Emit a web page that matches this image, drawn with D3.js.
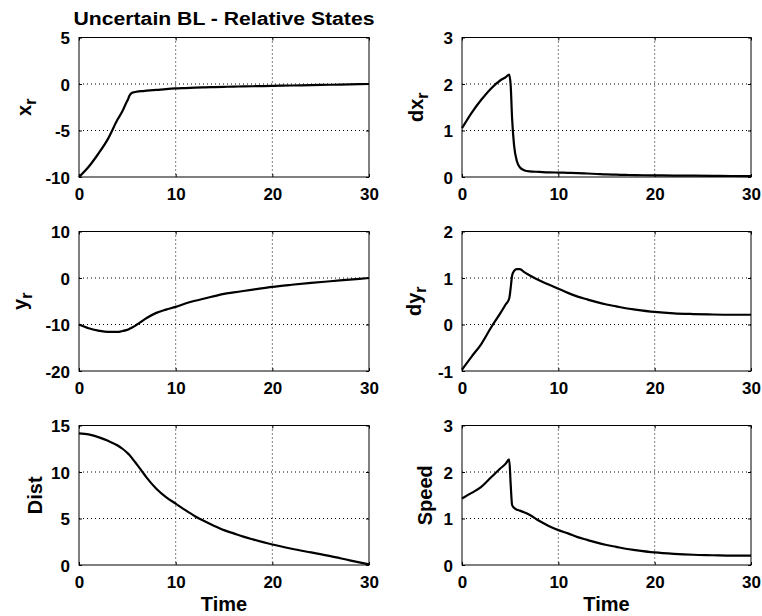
<!DOCTYPE html>
<html>
<head>
<meta charset="utf-8">
<script src="https://cdn.jsdelivr.net/npm/d3@7"></script>
<style>
  body { margin: 0; background: #fff; }
  text { font-family: "Liberation Sans", Arial, Helvetica, sans-serif; font-weight: bold; fill: #000; }
</style>
</head>
<body>
<div class="box"></div>
<script>
// sample times (shared by every series)
const time = [0, 1, 2, 3, 4, 4.5, 4.9, 5.05, 5.2, 5.4, 5.7, 6, 6.5, 7, 8, 9, 10, 11, 12, 13, 14, 15, 16, 17, 18, 20, 22, 24, 26, 28, 30]

const xr    = [-10, -8.9, -7.5, -5.9, -3.8, -2.9, -2.0, -1.7, -1.3, -1.0, -0.88, -0.82, -0.76, -0.72, -0.64, -0.55, -0.48, -0.44, -0.40, -0.36, -0.33, -0.30, -0.28, -0.26, -0.24, -0.20, -0.16, -0.12, -0.08, -0.04, 0.0]
const dxr   = [1.05, 1.38, 1.66, 1.9, 2.08, 2.14, 2.2, 1.98, 1.26, 0.69, 0.34, 0.21, 0.14, 0.12, 0.11, 0.1, 0.095, 0.09, 0.085, 0.075, 0.065, 0.055, 0.05, 0.045, 0.04, 0.035, 0.03, 0.028, 0.025, 0.022, 0.02]
const yr    = [-10, -10.8, -11.3, -11.6, -11.6, -11.4, -11.2, -11.1, -10.95, -10.75, -10.4, -10.0, -9.3, -8.6, -7.5, -6.8, -6.2, -5.5, -4.9, -4.4, -3.9, -3.4, -3.1, -2.8, -2.5, -1.9, -1.45, -1.05, -0.7, -0.35, 0.0]
const dyr   = [-0.97, -0.69, -0.42, -0.07, 0.25, 0.42, 0.56, 0.78, 1.05, 1.15, 1.19, 1.19, 1.12, 1.06, 0.95, 0.86, 0.77, 0.68, 0.6, 0.54, 0.48, 0.43, 0.39, 0.35, 0.32, 0.27, 0.24, 0.225, 0.215, 0.21, 0.21]
const dist  = [14.15, 14.05, 13.75, 13.35, 12.85, 12.5, 12.15, 12.0, 11.85, 11.6, 11.2, 10.8, 10.1, 9.4, 8.2, 7.3, 6.6, 5.9, 5.25, 4.7, 4.2, 3.75, 3.4, 3.05, 2.75, 2.2, 1.75, 1.35, 0.95, 0.5, 0.07]
const speed = [1.43, 1.55, 1.68, 1.88, 2.08, 2.17, 2.27, 1.75, 1.29, 1.23, 1.19, 1.17, 1.13, 1.08, 0.95, 0.84, 0.75, 0.68, 0.6, 0.54, 0.48, 0.43, 0.39, 0.35, 0.32, 0.27, 0.24, 0.22, 0.21, 0.2, 0.2]

// tick labels
const timeTicks  = [0, 10, 20, 30]
const xrTicks    = [-10, -5, 0, 5]
const dxrTicks   = [0, 1, 2, 3]
const yrTicks    = [-20, -10, 0, 10]
const dyrTicks   = [-1, 0, 1, 2]
const distTicks  = [0, 5, 10, 15]
const speedTicks = [0, 1, 2, 3]

const titleText = "Uncertain BL - Relative States"
const xLabel = "Time"

const width = 762
const height = 616

const cols = [[79, 369], [462, 751]]
const rows = [[37.5, 177], [231.5, 371], [425.5, 565]]

const panels = [
    { values: xr,    ticks: xrTicks,    label: "x", sub: "r", col: 0, row: 0, lx: 31 },
    { values: dxr,   ticks: dxrTicks,   label: "dx", sub: "r", col: 1, row: 0, lx: 423 },
    { values: yr,    ticks: yrTicks,    label: "y", sub: "r", col: 0, row: 1, lx: 27 },
    { values: dyr,   ticks: dyrTicks,   label: "dy", sub: "r", col: 1, row: 1, lx: 421 },
    { values: dist,  ticks: distTicks,  label: "Dist", sub: null, col: 0, row: 2, lx: 42 },
    { values: speed, ticks: speedTicks, label: "Speed", sub: null, col: 1, row: 2, lx: 432 }
]

const fmt = d => String(d)

const svg = d3.select('.box')
    .append('svg')
    .attr('width', width)
    .attr('height', height)

panels.forEach(p => {
    const [x0, x1] = cols[p.col]
    const [y0, y1] = rows[p.row]

    const x = d3.scaleLinear().domain([0, 30]).range([x0, x1])
    const y = d3.scaleLinear().domain(d3.extent(p.ticks)).range([y1, y0])

    const g = svg.append('g')

    // dotted grid
    g.selectAll('.gx').data(timeTicks.slice(1, -1)).enter()
        .append('line')
        .attr('x1', d => x(d)).attr('x2', d => x(d))
        .attr('y1', y0).attr('y2', y1)
        .attr('stroke', '#000').attr('stroke-width', 1)
        .attr('stroke-dasharray', '1,3')
    g.selectAll('.gy').data(p.ticks.slice(1, -1)).enter()
        .append('line')
        .attr('y1', d => y(d)).attr('y2', d => y(d))
        .attr('x1', x0).attr('x2', x1)
        .attr('stroke', '#000').attr('stroke-width', 1)
        .attr('stroke-dasharray', '1,3')

    // axes with inward ticks on all four sides
    const bottom = g.append('g').attr('transform', `translate(0,${y1})`)
        .call(d3.axisBottom(x).tickValues(timeTicks).tickFormat(fmt).tickSize(-3).tickPadding(8))
    const top = g.append('g').attr('transform', `translate(0,${y0})`)
        .call(d3.axisTop(x).tickValues(timeTicks).tickSize(-3).tickFormat(''))
    const left = g.append('g').attr('transform', `translate(${x0},0)`)
        .call(d3.axisLeft(y).tickValues(p.ticks).tickFormat(fmt).tickSize(-3).tickPadding(9))
    const right = g.append('g').attr('transform', `translate(${x1},0)`)
        .call(d3.axisRight(y).tickValues(p.ticks).tickSize(-3).tickFormat(''))

    ;[bottom, top, left, right].forEach(a => {
        a.select('.domain').remove()
        a.selectAll('line').attr('stroke', '#000')
        a.selectAll('text').style('font-size', '17px')
            .style('font-family', '"Liberation Sans", Arial, sans-serif')
            .style('font-weight', 'bold').attr('fill', '#000')
    })
    bottom.selectAll('text').attr('dy', '0.9em')
    left.selectAll('text').attr('dy', '0.36em')

    // box
    g.append('rect')
        .attr('x', x0).attr('y', y0)
        .attr('width', x1 - x0).attr('height', y1 - y0)
        .attr('fill', 'none').attr('stroke', '#000').attr('stroke-width', 1)

    // curve
    const line = d3.line()
        .x((d, i) => x(time[i]))
        .y(d => y(d))
        .curve(d3.curveMonotoneX)
    g.append('path')
        .datum(p.values)
        .attr('d', line)
        .attr('fill', 'none')
        .attr('stroke', '#000')
        .attr('stroke-width', 2.2)
        .attr('stroke-linejoin', 'round')

    // y label
    const cy = (y0 + y1) / 2
    const lab = g.append('text')
        .attr('transform', `translate(${p.lx},${cy}) rotate(-90)`)
        .attr('text-anchor', 'middle')
        .style('font-size', '20px')
        .text(p.label)
    if (p.sub) {
        lab.append('tspan').attr('dy', 5).style('font-size', '16px').text(p.sub)
    }

    if (p.row === 2) {
        g.append('text')
            .attr('x', (x0 + x1) / 2)
            .attr('y', 611)
            .attr('text-anchor', 'middle')
            .style('font-size', '20px')
            .text(xLabel)
    }
})

svg.append('text')
    .attr('x', 224)
    .attr('y', 25)
    .attr('text-anchor', 'middle')
    .attr('textLength', 301)
    .attr('lengthAdjust', 'spacingAndGlyphs')
    .style('font-size', '18px')
    .text(titleText)
</script>
</body>
</html>
